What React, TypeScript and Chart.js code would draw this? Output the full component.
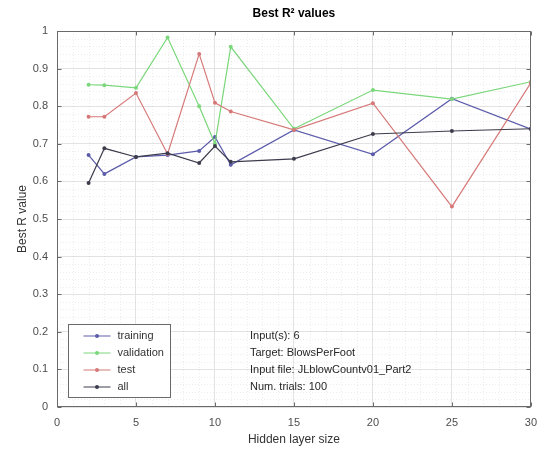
import React, { useEffect, useRef } from "react";
import { Chart, registerables } from "chart.js";

Chart.register(...registerables);

// Hidden layer sizes tried and the best R value obtained for each split
const hiddenSizes = [2, 3, 5, 7, 9, 10, 11, 15, 20, 25, 30];
const trainingR = [0.670, 0.620, 0.665, 0.670, 0.681, 0.718, 0.644, 0.737, 0.672, 0.820, 0.739];
const validationR = [0.857, 0.856, 0.849, 0.983, 0.800, 0.700, 0.958, 0.740, 0.843, 0.819, 0.865];
const testR = [0.772, 0.772, 0.835, 0.673, 0.939, 0.809, 0.786, 0.737, 0.808, 0.533, 0.862];
const allR = [0.596, 0.688, 0.665, 0.675, 0.649, 0.694, 0.652, 0.660, 0.726, 0.734, 0.740];

const seriesNames = ["training", "validation", "test", "all"];
const seriesColors = ["#5c5cab", "#7bd77b", "#d67878", "#3c3c4c"];

const chartTitle = "Best R\u00B2 values";
const infoLines = [
  "Input(s): 6",
  "Target: BlowsPerFoot",
  "Input file: JLblowCountv01_Part2",
  "Num. trials: 100",
];

const FONT = "'Liberation Sans', Arial, Helvetica, sans-serif";

// Minor dotted grid, inward ticks on all four sides, the axes box and the title
const axesDecor = {
  id: "axesDecor",
  beforeDatasetsDraw(chart: any) {
    const { ctx, chartArea: a, scales } = chart;
    const x = scales.x;
    const y = scales.y;
    ctx.save();
    ctx.lineWidth = 1;
    ctx.strokeStyle = "rgba(0,0,0,0.07)";
    ctx.setLineDash([1, 2]);
    for (let v = 1; v < 30; v++) {
      if (v % 5 === 0) continue;
      const px = Math.round(x.getPixelForValue(v)) + 0.5;
      ctx.beginPath();
      ctx.moveTo(px, a.top);
      ctx.lineTo(px, a.bottom);
      ctx.stroke();
    }
    for (let i = 1; i < 50; i++) {
      if (i % 5 === 0) continue;
      const py = Math.round(y.getPixelForValue(i / 50)) + 0.5;
      ctx.beginPath();
      ctx.moveTo(a.left, py);
      ctx.lineTo(a.right, py);
      ctx.stroke();
    }
    ctx.restore();
  },
  afterDatasetsDraw(chart: any) {
    const { ctx, chartArea: a, scales } = chart;
    const x = scales.x;
    const y = scales.y;
    ctx.save();
    ctx.lineWidth = 1;
    ctx.strokeStyle = "#6a6a6a";
    ctx.setLineDash([]);
    const L = Math.round(a.left) + 0.5;
    const R = Math.round(a.right) - 0.5;
    const T = Math.round(a.top) + 0.5;
    const B = Math.round(a.bottom) - 0.5;
    ctx.strokeRect(L, T, R - L, B - T);
    const tl = 4;
    x.ticks.forEach((t: any) => {
      const px = Math.round(x.getPixelForValue(t.value)) + 0.5;
      ctx.beginPath();
      ctx.moveTo(px, B);
      ctx.lineTo(px, B - tl);
      ctx.moveTo(px, T);
      ctx.lineTo(px, T + tl);
      ctx.stroke();
    });
    y.ticks.forEach((t: any) => {
      const py = Math.round(y.getPixelForValue(t.value)) + 0.5;
      ctx.beginPath();
      ctx.moveTo(L, py);
      ctx.lineTo(L + tl, py);
      ctx.moveTo(R, py);
      ctx.lineTo(R - tl, py);
      ctx.stroke();
    });
    ctx.fillStyle = "#000000";
    ctx.font = `bold 12px ${FONT}`;
    ctx.textAlign = "center";
    ctx.textBaseline = "middle";
    ctx.fillText(chartTitle, (a.left + a.right) / 2, a.top - 17);
    ctx.restore();
  },
};

// Legend box in the lower-left corner and the run information beside it
const legendAndInfo = {
  id: "legendAndInfo",
  afterDraw(chart: any) {
    const { ctx, chartArea: a } = chart;
    ctx.save();
    const bx = Math.round(a.left) + 11.5;
    const by = Math.round(a.bottom) - 82.5;
    const bw = 102;
    const bh = 73;
    ctx.fillStyle = "#ffffff";
    ctx.fillRect(bx, by, bw, bh);
    ctx.strokeStyle = "#6a6a6a";
    ctx.lineWidth = 1;
    ctx.strokeRect(bx, by, bw, bh);
    ctx.font = `11px ${FONT}`;
    ctx.textBaseline = "middle";
    ctx.textAlign = "left";
    seriesNames.forEach((name, i) => {
      const ry = by + 11.5 + i * 17;
      ctx.strokeStyle = seriesColors[i];
      ctx.beginPath();
      ctx.moveTo(bx + 15, ry);
      ctx.lineTo(bx + 42, ry);
      ctx.stroke();
      ctx.fillStyle = seriesColors[i];
      ctx.beginPath();
      ctx.arc(bx + 28.5, ry, 2, 0, Math.PI * 2);
      ctx.fill();
      ctx.fillStyle = "#333333";
      ctx.fillText(name, bx + 49, ry);
    });
    ctx.fillStyle = "#262626";
    infoLines.forEach((line, i) => {
      ctx.fillText(line, a.left + 193, by + 11.5 + i * 17);
    });
    ctx.restore();
  },
};

export default function App() {
  const canvasRef = useRef<HTMLCanvasElement | null>(null);

  useEffect(() => {
    if (!canvasRef.current) return;
    const series = [trainingR, validationR, testR, allR];
    const chart = new Chart(canvasRef.current, {
      type: "line",
      data: {
        datasets: series.map((vals, i) => ({
          label: seriesNames[i],
          data: hiddenSizes.map((h, k) => ({ x: h, y: vals[k] })),
          borderColor: seriesColors[i],
          backgroundColor: seriesColors[i],
          borderWidth: 1.2,
          pointRadius: 2,
          pointBorderWidth: 0,
          tension: 0,
          fill: false,
          order: 3 - i,
        })),
      },
      options: {
        animation: false,
        responsive: false,
        layout: { padding: { left: 0, right: 9, top: 31, bottom: 0 } },
        plugins: {
          legend: { display: false },
          tooltip: { enabled: false },
          title: { display: false },
        },
        scales: {
          x: {
            type: "linear",
            min: 0,
            max: 30,
            ticks: {
              stepSize: 5,
              color: "#4d4d4d",
              font: { family: FONT, size: 11 },
              padding: 9,
              maxRotation: 0,
            },
            grid: { color: "#e3e3e3", drawTicks: false },
            border: { display: false },
            title: {
              display: true,
              text: "Hidden layer size",
              color: "#333333",
              font: { family: FONT, size: 12 },
              padding: { top: 0, bottom: 3 },
            },
            afterFit(scale: any) {
              scale.height = 43;
            },
          },
          y: {
            type: "linear",
            min: 0,
            max: 1,
            ticks: {
              stepSize: 0.1,
              color: "#4d4d4d",
              font: { family: FONT, size: 11 },
              padding: 9,
              callback: (v: any) => String(Number(Number(v).toFixed(1))),
            },
            grid: { color: "#e3e3e3", drawTicks: false },
            border: { display: false },
            title: {
              display: true,
              text: "Best R value",
              color: "#333333",
              font: { family: FONT, size: 12 },
              padding: { top: 15, bottom: 0 },
            },
            afterFit(scale: any) {
              scale.width = 57;
            },
          },
        },
      },
      plugins: [axesDecor, legendAndInfo],
    } as any);
    return () => chart.destroy();
  }, []);

  return (
    <div style={{ position: "absolute", left: 0, top: 0, width: 546, height: 450, background: "#ffffff" }}>
      <canvas ref={canvasRef} width={546} height={450} style={{ display: "block" }} />
    </div>
  );
}
